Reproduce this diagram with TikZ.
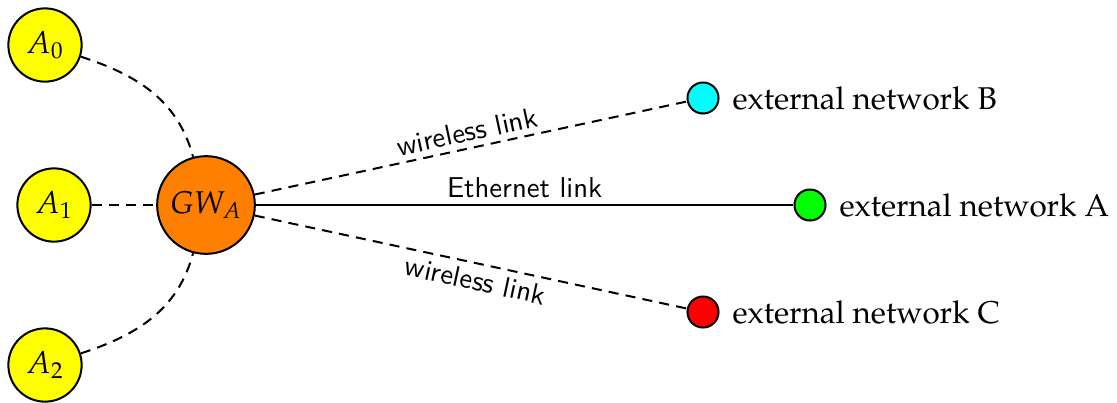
\documentclass[tikz,border=0pt]{standalone}
\usepackage[OT1]{fontenc}
\usepackage{mathpazo}
\definecolor{cyanc}{RGB}{0,255,255}
\definecolor{yellowc}{RGB}{255,255,0}
\definecolor{greenc}{RGB}{0,255,0}
\definecolor{redc}{RGB}{255,0,0}
\definecolor{orangec}{RGB}{255,128,0}
\newcommand{\linkfont}{\fontencoding{TU}\fontfamily{lmss}\fontseries{m}\fontshape{n}\fontsize{10}{12}\selectfont}
\begin{document}
\begin{tikzpicture}[x=0.348pt,y=-0.348pt,
  every node/.style={font=\fontsize{10.95}{13}\selectfont},
  agent/.style={circle,draw,line width=0.7pt,fill=yellowc,minimum size=25.5pt,inner sep=0pt},
  gw/.style={circle,draw,line width=0.7pt,fill=orangec,minimum size=34pt,inner sep=0pt},
  ext/.style={circle,draw,line width=0.7pt,minimum size=10.8pt,inner sep=0pt},
  link/.style={line width=0.7pt},
  wlink/.style={line width=0.7pt,dash pattern=on 3.5pt off 2.5pt},
  lbl/.style={font=\linkfont,sloped,inner sep=2pt}]
\useasboundingbox (0,0) rectangle (1117,402);
\node[agent] (A0) at (45,45) {$A_0$};
\node[agent] (A1) at (54,205) {$A_1$};
\node[agent] (A2) at (45,365) {$A_2$};
\node[gw] (GW) at (206,205) {$GW_A$};
\node[ext,fill=cyanc,label={[label distance=1pt]right:external network B}] (B) at (703,98) {};
\node[ext,fill=greenc,label={[label distance=1pt]right:external network A}] (A) at (810,205) {};
\node[ext,fill=redc,label={[label distance=1pt]right:external network C}] (C) at (703,312) {};
\draw[wlink] (A0) to[out=-18,in=105] (GW);
\draw[wlink] (A1) -- (GW);
\draw[wlink] (A2) to[out=18,in=-105] (GW);
\draw[wlink] (GW) -- node[lbl,above] {wireless link} (B);
\draw[link] (GW) -- node[lbl,above] {Ethernet link} (A);
\draw[wlink] (GW) -- node[lbl,below,pos=0.52] {wireless link} (C);
\end{tikzpicture}
\end{document}
